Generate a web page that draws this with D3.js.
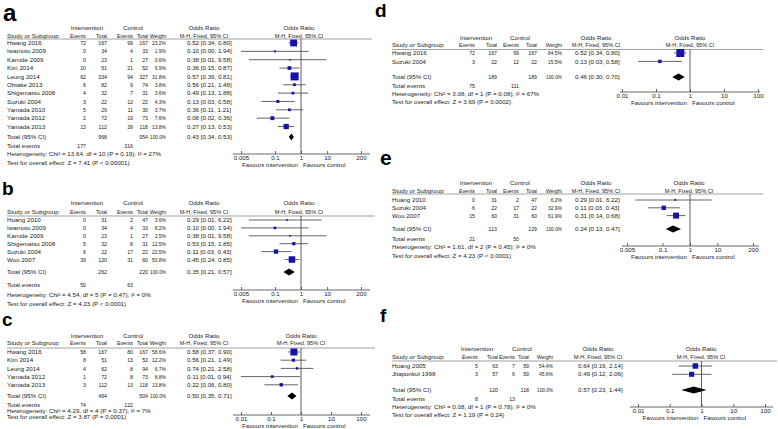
<!DOCTYPE html>
<html>
<head>
<meta charset="utf-8">
<script src="https://cdn.jsdelivr.net/npm/d3@7"></script>
<style>
  body { margin: 0; background: #fff; }
  svg { display: block; }
  text { font-family: "Liberation Sans", Arial, sans-serif; fill: #222; }
</style>
</head>
<body>
<svg id="chart" width="778" height="429"></svg>
<script>
// ---- data ----
// counts = [intervention events, intervention total, control events, control total]
var aStudies = ["Hwang 2016","Iwamoto 2009","Kamide 2009","Kim 2014","Leung 2014","Ohtake 2013",
                "Shigematsu 2008","Suzuki 2004","Yamada 2010","Yamada 2012","Yamada 2013"];
var aCounts  = [[72,167,99,167],[0,34,4,33],[0,23,1,27],[10,51,21,52],[62,334,94,327],[6,82,9,74],
                [4,32,7,31],[3,22,12,22],[5,29,11,30],[2,72,19,73],[13,112,39,118]];
var aWeights = [23.2,1.9,0.6,6.9,31.8,3.8,3.6,4.3,3.7,7.6,13.8];
var aOR      = [[0.52,0.34,0.80],[0.10,0.00,1.94],[0.38,0.01,9.58],[0.36,0.15,0.87],[0.57,0.39,0.81],
                [0.56,0.21,1.48],[0.49,0.13,1.88],[0.13,0.03,0.58],[0.36,0.11,1.21],[0.08,0.02,0.36],
                [0.27,0.13,0.53]];
var aTotal   = [968,954,177,316];
var aPooled  = [0.43,0.34,0.53];
var aHet     = "Heterogeneity: Chi\u00b2 = 13.64, df = 10 (P = 0.19); I\u00b2 = 27%";
var aTest    = "Test for overall effect: Z = 7.41 (P < 0.00001)";

var bStudies = ["Huang 2010","Iwamoto 2009","Kamide 2009","Shigematsu 2008","Suzuki 2004","Woo 2007"];
var bCounts  = [[0,31,2,47],[0,34,4,33],[0,23,1,27],[5,32,8,31],[6,22,17,22],[39,120,31,60]];
var bWeights = [3.6,8.2,2.5,12.5,22.5,50.8];
var bOR      = [[0.29,0.01,6.22],[0.10,0.00,1.94],[0.38,0.01,9.58],[0.53,0.15,1.85],[0.11,0.03,0.43],[0.45,0.24,0.85]];
var bTotal   = [262,220,50,63];
var bPooled  = [0.35,0.21,0.57];
var bHet     = "Heterogeneity: Chi\u00b2 = 4.54, df = 5 (P = 0.47); I\u00b2 = 0%";
var bTest    = "Test for overall effect: Z = 4.23 (P < 0.0001)";

var cStudies = ["Hwang 2016","Kim 2014","Leung 2014","Yamada 2012","Yamada 2013"];
var cCounts  = [[58,167,80,167],[8,51,13,52],[4,62,8,94],[1,72,8,73],[3,112,13,118]];
var cWeights = [58.6,12.2,6.7,8.8,13.8];
var cOR      = [[0.58,0.37,0.90],[0.56,0.21,1.49],[0.74,0.21,2.58],[0.11,0.01,0.94],[0.22,0.06,0.80]];
var cTotal   = [464,504,74,122];
var cPooled  = [0.50,0.35,0.71];
var cHet     = "Heterogeneity: Chi\u00b2 = 4.29, df = 4 (P = 0.37); I\u00b2 = 7%";
var cTest    = "Test for overall effect: Z = 3.87 (P = 0.0001)";

var dStudies = ["Hwang 2016","Suzuki 2004"];
var dCounts  = [[72,167,99,167],[3,22,12,22]];
var dWeights = [84.5,15.5];
var dOR      = [[0.52,0.34,0.80],[0.13,0.03,0.58]];
var dTotal   = [189,189,75,111];
var dPooled  = [0.46,0.30,0.70];
var dHet     = "Heterogeneity: Chi\u00b2 = 3.08, df = 1 (P = 0.08); I\u00b2 = 67%";
var dTest    = "Test for overall effect: Z = 3.69 (P = 0.0002)";

var eStudies = ["Huang 2010","Suzuki 2004","Woo 2007"];
var eCounts  = [[0,31,2,47],[6,22,17,22],[15,60,31,60]];
var eWeights = [6.2,32.9,61.9];
var eOR      = [[0.29,0.01,6.22],[0.11,0.03,0.43],[0.31,0.14,0.68]];
var eTotal   = [113,129,21,50];
var ePooled  = [0.24,0.13,0.47];
var eHet     = "Heterogeneity: Chi\u00b2 = 1.61, df = 2 (P = 0.45); I\u00b2 = 0%";
var eTest    = "Test for overall effect: Z = 4.23 (P < 0.0001)";

var fStudies = ["Huang 2005","Jitapunkul 1998"];
var fCounts  = [[5,63,7,59],[3,57,6,59]];
var fWeights = [54.4,45.6];
var fOR      = [[0.64,0.19,2.14],[0.49,0.12,2.06]];
var fTotal   = [120,118,8,13];
var fPooled  = [0.57,0.23,1.44];
var fHet     = "Heterogeneity: Chi\u00b2 = 0.08, df = 1 (P = 0.78); I\u00b2 = 0%";
var fTest    = "Test for overall effect: Z = 1.19 (P = 0.24)";

var ticksWide   = [0.005, 0.1, 1, 10, 200];
var ticksNarrow = [0.01, 0.1, 1, 10, 100];

// ---- layout (column x positions, row y positions) ----
var colLeft  = {study:7,   ie:86,  it:107, ce:133, ct:148, w:166, or:187, orHead:204, intHead:87,  ctlHead:133};
var colRight = {study:392, ie:475, it:497, ce:519, ct:537, w:562, or:575, orHead:596, intHead:476, ctlHead:520};
var colF     = {study:392, ie:478, it:498, ce:515, ct:529, w:553, or:578, orHead:598, intHead:477, ctlHead:522};

var panels = [
  {letter:"a", lx:3, ly:21, ls:24, col:colLeft, studies:aStudies, counts:aCounts, weights:aWeights, or:aOR,
   total:aTotal, pooled:aPooled, het:aHet, test:aTest, ticks:ticksWide,
   h1:28, h2:36, line:39, lineX:[7,372], row0:43, step:8.35, totY:137, evY:146, hetY:154, testY:163,
   axisY:154, axisX:[233,370], range:[241,361], plotHead:299, maxSide:8},
  {letter:"b", lx:2, ly:195, ls:19, col:colLeft, studies:bStudies, counts:bCounts, weights:bWeights, or:bOR,
   total:bTotal, pooled:bPooled, het:bHet, test:bTest, ticks:ticksWide,
   h1:203, h2:212, line:216, lineX:[7,375], row0:220, step:7.9, totY:272, evY:285, hetY:295, testY:304,
   axisY:290, axisX:[233,370], range:[241,361], plotHead:299, maxSide:6.5},
  {letter:"c", lx:2, ly:326, ls:19, col:colLeft, studies:cStudies, counts:cCounts, weights:cWeights, or:cOR,
   total:cTotal, pooled:cPooled, het:cHet, test:cTest, ticks:ticksNarrow,
   h1:336, h2:343, line:348, lineX:[7,375], row0:352, step:8.2, totY:396, evY:405, hetY:411, testY:417,
   axisY:415, axisX:[233,370], range:[241,361], plotHead:301, maxSide:7},
  {letter:"d", lx:375, ly:16.5, ls:19, col:colRight, studies:dStudies, counts:dCounts, weights:dWeights, or:dOR,
   total:dTotal, pooled:dPooled, het:dHet, test:dTest, ticks:ticksNarrow,
   h1:38, h2:45, line:49.5, lineX:[392,763], row0:53, step:8.4, totY:77, evY:86, hetY:93.5, testY:102,
   axisY:92, axisX:[620,760], range:[622,758], plotHead:690, maxSide:8},
  {letter:"e", lx:380, ly:165, ls:21, col:colRight, studies:eStudies, counts:eCounts, weights:eWeights, or:eOR,
   total:eTotal, pooled:ePooled, het:eHet, test:eTest, ticks:ticksWide,
   h1:183, h2:191, line:194, lineX:[392,763], row0:200, step:7.8, totY:229, evY:239, hetY:247, testY:256,
   axisY:246, axisX:[622,759], range:[627,753], plotHead:689, maxSide:6},
  {letter:"f", lx:380, ly:322, ls:19, col:colF, studies:fStudies, counts:fCounts, weights:fWeights, or:fOR,
   total:fTotal, pooled:fPooled, het:fHet, test:fTest, ticks:ticksNarrow,
   h1:349, h2:357, line:361, lineX:[392,777], row0:366, step:8.3, totY:390, evY:399, hetY:407, testY:415,
   axisY:407, axisX:[630,773], range:[638,765], plotHead:701, maxSide:5.5}
];

var svg = d3.select("#chart");
var fs = 6.2;       // table font size
var base = 2.1;     // text centre -> baseline
var f2 = d3.format(".2f");

// squeeze = horizontal compression for the narrow numeric columns
function txt(g, x, y, s, anchor, squeeze) {
  var t = g.append("text")
      .attr("x", x).attr("y", y + base)
      .attr("text-anchor", anchor || "start")
      .style("font-size", fs + "px")
      .text(s);
  if (squeeze) {
    var w = t.node().getComputedTextLength();
    t.attr("textLength", w * squeeze).attr("lengthAdjust", "spacingAndGlyphs");
  }
  return t;
}

function drawPanel(p) {
  var g = svg.append("g");
  var c = p.col;
  var x = d3.scaleLog().domain([p.ticks[0], p.ticks[p.ticks.length - 1]]).range(p.range);
  var y = d3.scaleLinear().domain([0, 1]).range([p.row0, p.row0 + p.step]);
  var wmax = d3.max(p.weights);

  // panel letter
  g.append("text")
      .attr("x", p.lx).attr("y", p.ly)
      .style("font-size", p.ls + "px")
      .style("font-weight", "bold")
      .style("fill", "#000")
      .text(p.letter);

  // headers
  txt(g, c.intHead, p.h1, "Intervention", "middle");
  txt(g, c.ctlHead, p.h1, "Control", "middle");
  txt(g, c.orHead, p.h1, "Odds Ratio", "middle");
  txt(g, p.plotHead, p.h1, "Odds Ratio", "middle");
  txt(g, c.study, p.h2, "Study or Subgroup");
  txt(g, c.ie, p.h2, "Events", "end", 0.85);
  txt(g, c.it, p.h2, "Total", "end", 0.85);
  txt(g, c.ce, p.h2, "Events", "end", 0.85);
  txt(g, c.ct, p.h2, "Total", "end", 0.85);
  txt(g, c.w, p.h2, "Weight", "end", 0.85);
  txt(g, c.orHead, p.h2, "M-H, Fixed, 95% CI", "middle", 0.9);
  txt(g, p.plotHead, p.h2, "M-H, Fixed, 95% CI", "middle", 0.9);

  g.append("line")
      .attr("x1", p.lineX[0]).attr("x2", p.lineX[1])
      .attr("y1", p.line).attr("y2", p.line)
      .attr("stroke", "#8a8a8a").attr("stroke-width", 0.8);

  // study rows
  p.studies.forEach(function(s, i) {
    var yy = y(i);
    var n = p.counts[i];
    txt(g, c.study, yy, s);
    txt(g, c.ie, yy, n[0], "end", 0.85);
    txt(g, c.it, yy, n[1], "end", 0.85);
    txt(g, c.ce, yy, n[2], "end", 0.85);
    txt(g, c.ct, yy, n[3], "end", 0.85);
    txt(g, c.w, yy, p.weights[i].toFixed(1) + "%", "end", 0.8);
    var o = p.or[i];
    txt(g, c.or, yy, f2(o[0]) + " [" + f2(o[1]) + ", " + f2(o[2]) + "]");
  });

  // totals
  txt(g, c.study, p.totY, "Total (95% CI)");
  txt(g, c.it, p.totY, p.total[0], "end", 0.85);
  txt(g, c.ct, p.totY, p.total[1], "end", 0.85);
  txt(g, c.w, p.totY, "100.0%", "end", 0.76);
  txt(g, c.or, p.totY, f2(p.pooled[0]) + " [" + f2(p.pooled[1]) + ", " + f2(p.pooled[2]) + "]");
  txt(g, c.study, p.evY, "Total events");
  txt(g, c.ie, p.evY, p.total[2], "end", 0.85);
  txt(g, c.ce, p.evY, p.total[3], "end", 0.85);
  txt(g, c.study, p.hetY, p.het);
  txt(g, c.study, p.testY, p.test);

  // forest: line of no effect
  g.append("line")
      .attr("x1", x(1)).attr("x2", x(1))
      .attr("y1", p.line).attr("y2", p.axisY)
      .attr("stroke", "#333").attr("stroke-width", 0.8);

  var lo = x.domain()[0], hi = x.domain()[1];
  // CI whiskers
  g.selectAll(".ci").data(p.or).enter().append("line")
      .attr("x1", function(d) { return x(Math.max(d[1], lo)); })
      .attr("x2", function(d) { return x(Math.min(d[2], hi)); })
      .attr("y1", function(d, i) { return y(i); })
      .attr("y2", function(d, i) { return y(i); })
      .attr("stroke", "#555").attr("stroke-width", 0.9);

  // weighted squares
  g.selectAll(".sq").data(p.or).enter().append("rect")
      .each(function(d, i) {
        var side = Math.max(1.6, p.maxSide * Math.sqrt(p.weights[i] / wmax));
        d3.select(this)
          .attr("x", x(d[0]) - side / 2).attr("y", y(i) - side / 2)
          .attr("width", side).attr("height", side);
      })
      .attr("fill", "#1414a8");

  // pooled diamond
  var dy = p.totY;
  g.append("path")
      .attr("d", "M" + x(p.pooled[1]) + "," + dy +
                 "L" + x(p.pooled[0]) + "," + (dy - 3.4) +
                 "L" + x(p.pooled[2]) + "," + dy +
                 "L" + x(p.pooled[0]) + "," + (dy + 3.4) + "Z")
      .attr("fill", "#000");

  // axis
  g.append("line")
      .attr("x1", p.axisX[0]).attr("x2", p.axisX[1])
      .attr("y1", p.axisY).attr("y2", p.axisY)
      .attr("stroke", "#444").attr("stroke-width", 0.8);

  var ax = g.append("g")
      .attr("transform", "translate(0," + p.axisY + ")")
      .call(d3.axisBottom(x).tickValues(p.ticks).tickFormat(function(d) { return String(d); })
              .tickSizeInner(-3).tickSizeOuter(0).tickPadding(2));
  ax.select(".domain").remove();
  ax.selectAll("line").attr("stroke", "#444").attr("stroke-width", 0.8);
  ax.selectAll("text")
      .attr("fill", "#222")
      .style("font-size", fs + "px")
      .style("font-family", "'Liberation Sans', Arial, sans-serif");

  txt(g, x(1) - 3, p.axisY + 10.5, "Favours intervention", "end");
  txt(g, x(1) + 2, p.axisY + 10.5, "Favours control");
}

panels.forEach(drawPanel);
</script>
</body>
</html>
